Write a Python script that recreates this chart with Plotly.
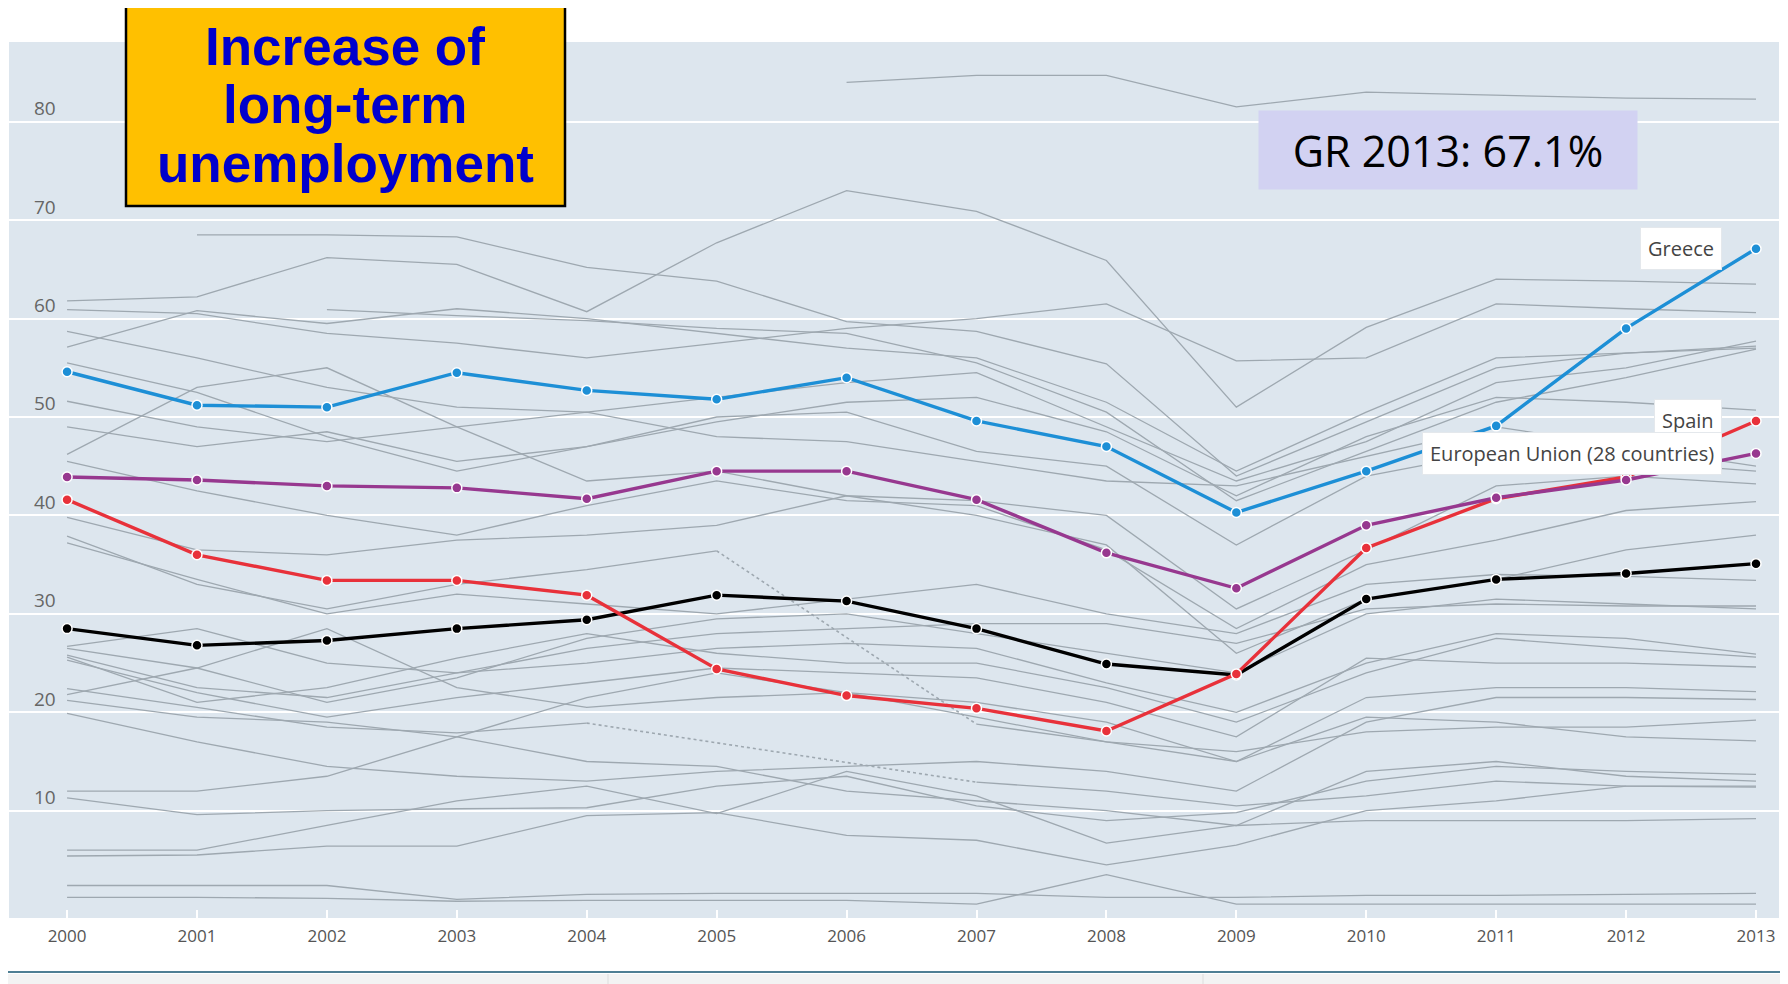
import plotly.graph_objects as go

years = list(range(2000, 2014))

greece = [54.6, 51.2, 51.0, 54.5, 52.7, 51.8, 54.0, 49.6, 47.0, 40.3, 44.5, 49.1, 59.0, 67.1]
eu28 = [43.9, 43.6, 43.0, 42.8, 41.7, 44.5, 44.5, 41.6, 36.2, 32.6, 39.0, 41.8, 43.6, 46.3]
spain = [41.6, 36.0, 33.4, 33.4, 31.9, 24.4, 21.7, 20.4, 18.1, 23.9, 36.7, 41.7, 43.9, 49.6]
other = [28.5, 26.8, 27.3, 28.5, 29.4, 31.9, 31.3, 28.5, 24.9, 23.8, 31.5, 33.5, 34.1, 35.1]

N = None
grey_series = [
    [N, N, N, N, N, N, 84.0, 84.7, 84.7, 81.5, 83.0, 82.7, 82.4, 82.3],
    [N, 68.5, 68.5, 68.3, 65.2, 63.8, 59.7, 58.7, 55.4, 44.0, 49.5, 55.0, 56.5, 57.2],
    [61.8, 62.2, 66.2, 65.5, 60.7, 67.7, 73.0, 70.9, 65.9, 51.0, 59.1, 64.0, 63.8, 63.5],
    [60.9, 60.5, 58.5, 57.5, 56.0, 57.5, 59.0, 60.0, 61.5, 55.7, 56.0, 61.5, 61.0, 60.6],
    [58.7, 56.0, 53.0, 51.0, 50.5, 52.0, 53.5, 54.5, 49.0, 43.5, 47.5, 53.5, 55.0, 57.7],
    [57.1, 60.8, 59.5, 61.0, 60.0, 58.5, 57.0, 56.0, 51.5, 44.5, 50.5, 56.0, 56.5, 57.0],
    [N, N, 60.9, 60.3, 59.8, 59.0, 58.5, 55.5, 50.5, 41.5, 46.5, 51.5, 54.0, 56.9],
    [55.5, 52.5, 48.0, 44.5, 47.0, 49.5, 51.5, 52.0, 48.5, 42.0, 48.0, 52.0, 51.5, 50.7],
    [51.6, 49.0, 47.5, 49.0, 50.5, 48.0, 47.5, 45.5, 43.5, 43.0, 46.0, 49.0, 47.0, 45.0],
    [49.0, 47.0, 48.5, 45.5, 47.0, 50.0, 50.5, 46.5, 45.0, 37.0, 44.0, 46.5, 45.5, 44.5],
    [46.2, 53.0, 55.0, 49.0, 43.5, 44.5, 42.0, 41.5, 40.0, 30.5, 36.5, 43.0, 44.0, 43.2],
    [45.5, 42.5, 40.0, 38.0, 41.0, 43.5, 41.5, 41.0, 36.5, 28.5, 35.0, 37.5, 40.5, 41.4],
    [39.8, 36.5, 36.0, 37.5, 38.0, 39.0, 42.0, 40.0, 37.0, 26.0, 31.5, 33.5, 36.5, 38.0],
    [37.9, 33.0, 30.5, 33.0, 34.5, 36.4, N, 18.8, 17.0, 15.0, 19.5, 19.0, 17.5, 17.1],
    [22.4, 20.5, 18.5, 17.9, 18.9, N, N, 12.9, 12.0, 10.5, 11.5, 13.0, 12.5, 12.4],
    [37.2, 33.5, 30.0, 32.0, 31.0, 30.0, 31.5, 33.0, 30.0, 28.0, 33.0, 34.0, 33.8, 33.4],
    [26.7, 28.5, 25.0, 24.0, 26.5, 28.0, 28.5, 29.0, 29.0, 27.0, 30.5, 31.0, 30.8, 30.8],
    [26.5, 24.5, 21.0, 23.5, 27.5, 29.5, 30.0, 28.0, 26.0, 24.0, 30.0, 31.5, 31.0, 30.5],
    [25.8, 22.5, 21.5, 24.0, 25.0, 26.5, 27.0, 26.5, 23.0, 20.0, 25.0, 28.0, 27.5, 25.9],
    [25.6, 21.0, 22.5, 25.5, 28.0, 26.0, 25.0, 25.0, 22.5, 19.0, 24.0, 27.5, 26.5, 25.6],
    [25.3, 22.0, 19.5, 21.5, 23.0, 24.5, 24.0, 23.5, 21.0, 17.5, 25.5, 25.0, 25.0, 24.6],
    [21.8, 24.5, 28.5, 22.5, 20.5, 21.5, 22.0, 21.0, 19.0, 15.0, 21.5, 22.5, 22.5, 22.1],
    [19.9, 17.0, 14.5, 13.5, 13.0, 14.0, 14.5, 15.0, 14.0, 12.0, 19.0, 21.5, 21.5, 21.3],
    [12.0, 12.0, 13.5, 17.5, 21.5, 24.0, 22.0, 19.5, 17.0, 16.0, 18.0, 18.5, 18.5, 19.2],
    [11.3, 9.6, 10.0, 10.2, 10.3, 12.5, 13.5, 10.5, 9.0, 9.8, 13.0, 14.5, 14.0, 13.7],
    [21.2, 19.5, 19.0, 17.5, 15.0, 14.5, 12.0, 11.0, 10.0, 8.5, 14.0, 15.0, 13.5, 13.0],
    [6.0, 6.0, 8.5, 11.0, 12.5, 9.7, 14.0, 11.5, 6.7, 8.5, 9.0, 9.0, 9.0, 9.2],
    [5.4, 5.5, 6.4, 6.4, 9.5, 9.8, 7.5, 7.0, 4.5, 6.5, 10.0, 11.0, 12.5, 12.5],
    [2.4, 2.4, 2.4, 1.0, 1.5, 1.6, 1.6, 1.6, 1.2, 1.2, 1.4, 1.4, 1.5, 1.6],
    [1.2, 1.2, 1.1, 0.8, 0.9, 0.9, 0.9, 0.5, 3.5, 0.5, 0.5, 0.5, 0.5, 0.5],
]

highlight = [
    ("Other", other, "#000000"),
    ("Spain", spain, "#e8313a"),
    ("European Union (28 countries)", eu28, "#97388f"),
    ("Greece", greece, "#1d8fd6"),
]

title_lines = ["Increase of", "long-term", "unemployment"]
GREY = "#9ea8b0"

# the page puts the figure 8px in from the top-left corner
PAGE_OFF = 8
W, H = 1780, 976
ML, MR, MT, MB = 1, 9, 34, 66
pw, ph = W - ML - MR, H - MT - MB


def px(x):
    return (x - PAGE_OFF - ML) / pw


def py(y):
    return (H - MB - (y - PAGE_OFF)) / ph


fig = go.Figure()

for s in grey_series:
    fig.add_trace(go.Scatter(x=years, y=s, mode="lines", line=dict(color=GREY, width=1.3),
                             connectgaps=False, hoverinfo="skip", showlegend=False))
    # dotted connector across missing years
    last = None
    for i, v in enumerate(s):
        if v is None:
            continue
        if last is not None and i - last > 1:
            fig.add_trace(go.Scatter(x=[years[last], years[i]], y=[s[last], v], mode="lines",
                                     line=dict(color=GREY, width=1.6, dash="dot"),
                                     hoverinfo="skip", showlegend=False))
        last = i

for name, vals, col in highlight:
    fig.add_trace(go.Scatter(x=years, y=vals, mode="lines+markers", name=name,
                             line=dict(color=col, width=3.4),
                             marker=dict(size=10, color=col, line=dict(color="white", width=1.5)),
                             hoverinfo="skip", showlegend=False))

# series labels at the 2013 end points
for name, vals, col in highlight[1:]:
    fig.add_annotation(x=years[-1], y=vals[-1], xref="x", yref="y", text=name,
                       showarrow=False, xanchor="right", xshift=-34,
                       font=dict(family="Open Sans, sans-serif", size=20, color="#444"),
                       bgcolor="white", bordercolor="#e4e8ec", borderwidth=1, borderpad=7)

# title box
fig.add_shape(type="rect", xref="paper", yref="paper", x0=px(126), x1=px(565), y0=py(206), y1=py(6),
              fillcolor="#ffc000", line=dict(color="black", width=2.5), layer="above")
for i, t in enumerate(title_lines):
    fig.add_annotation(x=px(345), y=py(46 + i * 59), xref="paper", yref="paper", text="<b>" + t + "</b>",
                       showarrow=False, xanchor="center", yanchor="middle",
                       font=dict(family="Liberation Sans, Arial, sans-serif", size=53, color="#0000cc"))

fig.add_annotation(x=px(1448), y=py(150), xref="paper", yref="paper", text="GR 2013: 67.1%",
                   showarrow=False, xanchor="center", yanchor="middle",
                   font=dict(family="Open Sans, sans-serif", size=43, color="black"),
                   bgcolor="#d2d2f2", width=376, height=76)

# bottom rule and strip
fig.add_shape(type="rect", xref="paper", yref="paper", x0=px(0), x1=px(1788),
              y0=py(990), y1=py(974), fillcolor="#f3f3f3", line_width=0)
fig.add_shape(type="line", xref="paper", yref="paper", x0=px(0), x1=px(1788),
              y0=py(972), y1=py(972), line=dict(color="#4f7f94", width=2))
for xd in (608, 1203):
    fig.add_shape(type="line", xref="paper", yref="paper", x0=px(xd), x1=px(xd),
                  y0=py(990), y1=py(974), line=dict(color="#dddddd", width=1))

fig.update_layout(
    width=W, height=H,
    margin=dict(l=ML, r=MR, t=MT, b=MB),
    paper_bgcolor="white", plot_bgcolor="#dde6ee",
    hovermode=False,
    xaxis=dict(range=[1999.553, 2013.177], tickvals=years, ticktext=[str(y) for y in years],
               showgrid=False, zeroline=False, ticks="inside", ticklen=8, tickcolor="white", tickwidth=2,
               ticklabelstandoff=6,
               tickfont=dict(family="Open Sans, sans-serif", size=17, color="#555")),
    yaxis=dict(range=[-0.9, 88.1], tickvals=list(range(10, 90, 10)), showgrid=True,
               gridcolor="white", gridwidth=2, zeroline=False, ticks="",
               ticklabelposition="inside top", ticklabelstandoff=22,
               tickfont=dict(family="Open Sans, sans-serif", size=19, color="#666")),
)

fig.write_html("out.html")
